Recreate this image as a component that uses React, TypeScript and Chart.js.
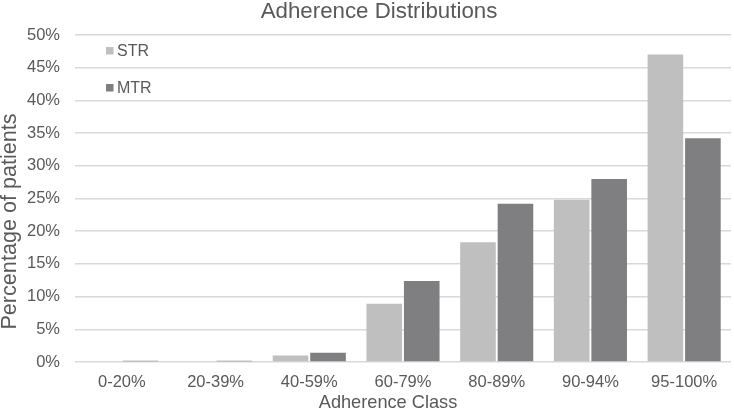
import React, { useEffect, useRef } from "react";
import { Chart, registerables } from "chart.js";

Chart.register(...registerables);

const categories = ["0-20%", "20-39%", "40-59%", "60-79%", "80-89%", "90-94%", "95-100%"];
const strValues = [0, 0, 1.0, 8.9, 18.3, 24.8, 47.0];
const mtrValues = [0.2, 0.2, 1.4, 12.4, 24.2, 28.0, 34.2];
const seriesLabels = ["STR", "MTR"];
const seriesColors = ["#bfbfbf", "#7f7f82"];
const chartTitle = "Adherence Distributions";
const xAxisTitle = "Adherence Class";
const yAxisTitle = "Percentage of patients";

const FONT = "'Liberation Sans', Arial, sans-serif";
const TEXT = "#595959";

const textPlugin = {
  id: "customText",
  afterDraw(chart: any) {
    const { ctx, chartArea } = chart;
    ctx.save();
    ctx.textAlign = "center";
    ctx.textBaseline = "middle";
    ctx.fillStyle = TEXT;
    // chart title
    ctx.font = `22.3px ${FONT}`;
    ctx.fillText(chartTitle, 379, 12);
    // x axis title
    ctx.font = `18.2px ${FONT}`;
    ctx.fillText(xAxisTitle, (chartArea.left + chartArea.right) / 2 - 15, chartArea.bottom + 41);
    // legend
    ctx.font = `16px ${FONT}`;
    ctx.textAlign = "left";
    chart.data.datasets.forEach((ds: any, i: number) => {
      const y = chartArea.top + 16 + i * 37;
      const x = chartArea.left + 31;
      ctx.fillStyle = ds.backgroundColor;
      ctx.fillRect(x, y - 4, 7.5, 7.5);
      ctx.fillStyle = TEXT;
      ctx.fillText(ds.label, x + 11, y + 1);
    });
    // y axis title
    ctx.translate(10.5, (chartArea.top + chartArea.bottom) / 2 + 23);
    ctx.rotate(-Math.PI / 2);
    ctx.font = `21.6px ${FONT}`;
    ctx.textAlign = "center";
    ctx.fillStyle = TEXT;
    ctx.fillText(yAxisTitle, 0, 0);
    ctx.restore();
  },
};

export default function App() {
  const ref = useRef<HTMLCanvasElement | null>(null);
  useEffect(() => {
    document.body.style.margin = "0";
    const chart = new Chart(ref.current as HTMLCanvasElement, {
      type: "bar",
      data: {
        labels: categories,
        datasets: [
          { label: seriesLabels[0], data: strValues, backgroundColor: seriesColors[0] },
          { label: seriesLabels[1], data: mtrValues, backgroundColor: seriesColors[1] },
        ],
      },
      options: {
        animation: false,
        responsive: false,
        maintainAspectRatio: false,
        layout: { padding: { left: 0, right: 3, top: 35, bottom: 0 } },
        datasets: { bar: { categoryPercentage: 0.8, barPercentage: 0.95 } } as any,
        plugins: {
          legend: { display: false },
          tooltip: { enabled: false },
          title: { display: false },
        },
        scales: {
          x: {
            grid: { display: false, drawTicks: false },
            border: { display: false },
            ticks: { color: TEXT, font: { family: FONT, size: 16.5 }, padding: 11, maxRotation: 0 },
            title: { display: false },
            afterFit(scale: any) {
              scale.height = 51;
            },
          },
          y: {
            min: 0,
            max: 50,
            ticks: {
              stepSize: 5,
              color: TEXT,
              font: { family: FONT, size: 16.5 },
              padding: 15,
              callback: (v: any) => `${v}%`,
            },
            grid: { color: "#d9d9d9", lineWidth: 1.5, drawTicks: false },
            border: { display: false },
            title: { display: false },
            afterFit(scale: any) {
              scale.width = 75;
            },
          },
        },
      },
      plugins: [textPlugin],
    });
    return () => chart.destroy();
  }, []);
  return (
    <div style={{ position: "absolute", left: 0, top: 0, width: 734, height: 413 }}>
      <canvas ref={ref} width={734} height={413} style={{ width: 734, height: 413 }} />
    </div>
  );
}
